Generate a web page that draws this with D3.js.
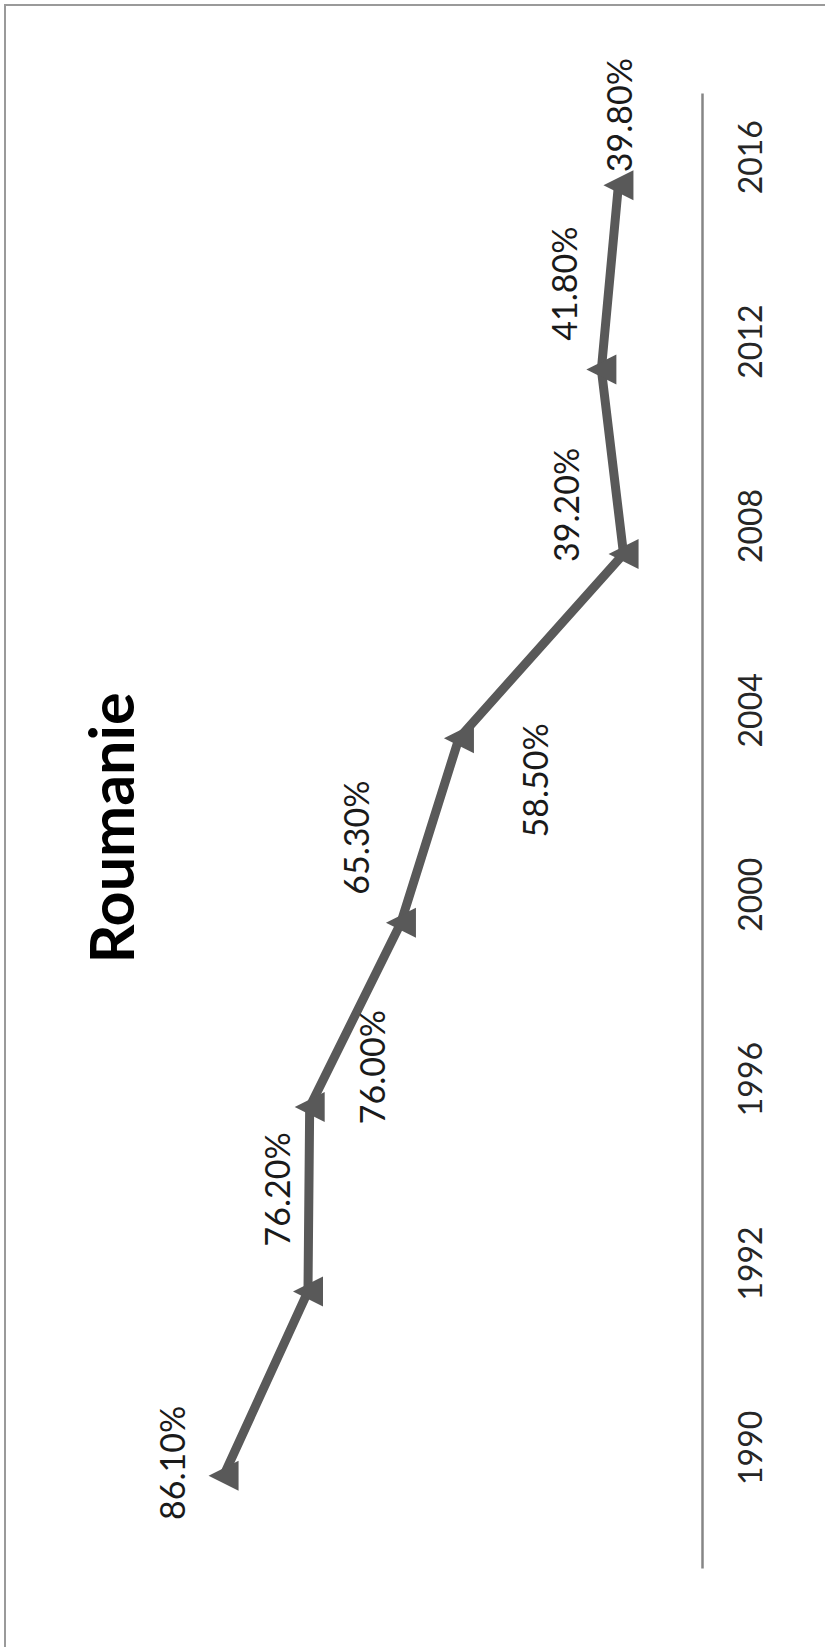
<!DOCTYPE html>
<html>
<head>
<meta charset="utf-8">
<script src="https://cdn.jsdelivr.net/npm/d3@7"></script>
<style>
  html, body { margin: 0; padding: 0; background: #fff; }
  svg { display: block; }
</style>
</head>
<body>
<script>
// Romania – share of the vote, election years (chart drawn turned a quarter‑turn)
const years = ["1990", "1992", "1996", "2000", "2004", "2008", "2012", "2016"];
const values = [86.1, 76.2, 76.0, 65.3, 58.5, 39.2, 41.8, 39.8];
const valueLabels = ["86.10%", "76.20%", "76.00%", "65.30%", "58.50%", "39.20%", "41.80%", "39.80%"];
const title = "Roumanie";

// hand-placed label offsets from each marker (screen px)
const labelOffsets = [[-50, -13], [-30, -102], [63, -40], [-44, -85], [77, 42], [-56, -49], [-36, -86], [2, -70]];

const W = 825, H = 1647;
const svg = d3.select("body").append("svg").attr("width", W).attr("height", H);

// outer frame (top and left edges visible)
svg.append("path")
  .attr("d", `M5,${H + 5}V5H${W + 5}`)
  .attr("fill", "none").attr("stroke", "#9a9a9a").attr("stroke-width", 2);

const axisX = 702;
const y = d3.scaleBand().domain(years).range([1568, 93]).paddingInner(0).paddingOuter(0);
const x = d3.scaleLinear().domain([30, 100]).range([axisX, 105]);
const cy = d => y(d) + y.bandwidth() / 2;

// category axis
const axis = svg.append("g")
  .attr("transform", `translate(${axisX},0)`)
  .call(d3.axisRight(y).tickSizeInner(0).tickSizeOuter(0).tickPadding(0));
axis.select(".domain").attr("stroke", "#868686").attr("stroke-width", 2.5);
axis.selectAll(".tick line").remove();
axis.selectAll(".tick text")
  .attr("x", 0).attr("dy", "0.35em")
  .attr("transform", "translate(49,-28) rotate(-90)")
  .attr("text-anchor", "middle")
  .attr("font-family", "Lato, 'Liberation Sans', sans-serif")
  .attr("font-size", 32)
  .attr("fill", "#262626");

const data = years.map((yr, i) => ({ year: yr, value: values[i], label: valueLabels[i], off: labelOffsets[i] }));

// series line
svg.append("path")
  .datum(data)
  .attr("d", d3.line().x(d => x(d.value)).y(d => cy(d.year)))
  .attr("fill", "none")
  .attr("stroke", "#595959")
  .attr("stroke-width", 9)
  .attr("stroke-linejoin", "round");

// triangle markers (pointing toward higher values)
svg.selectAll("path.marker")
  .data(data)
  .join("path")
  .attr("class", "marker")
  .attr("transform", d => `translate(${x(d.value)},${cy(d.year)})`)
  .attr("d", "M-15,0L15,-15L15,15Z")
  .attr("fill", "#595959");

// value labels
svg.selectAll("text.vlabel")
  .data(data)
  .join("text")
  .attr("class", "vlabel")
  .attr("transform", d => `translate(${x(d.value) + d.off[0]},${cy(d.year) + d.off[1]}) rotate(-90)`)
  .attr("text-anchor", "middle")
  .attr("dy", "0.35em")
  .attr("font-family", "Lato, 'Liberation Sans', sans-serif")
  .attr("font-size", 34)
  .attr("fill", "#1a1a1a")
  .text(d => d.label);

// title
svg.append("text")
  .attr("transform", "translate(112,828) rotate(-90)")
  .attr("text-anchor", "middle")
  .attr("dy", "0.36em")
  .attr("font-family", "Lato, 'Liberation Sans', sans-serif")
  .attr("font-weight", "bold")
  .attr("font-size", 61)
  .attr("fill", "#000")
  .text(title);
</script>
</body>
</html>
